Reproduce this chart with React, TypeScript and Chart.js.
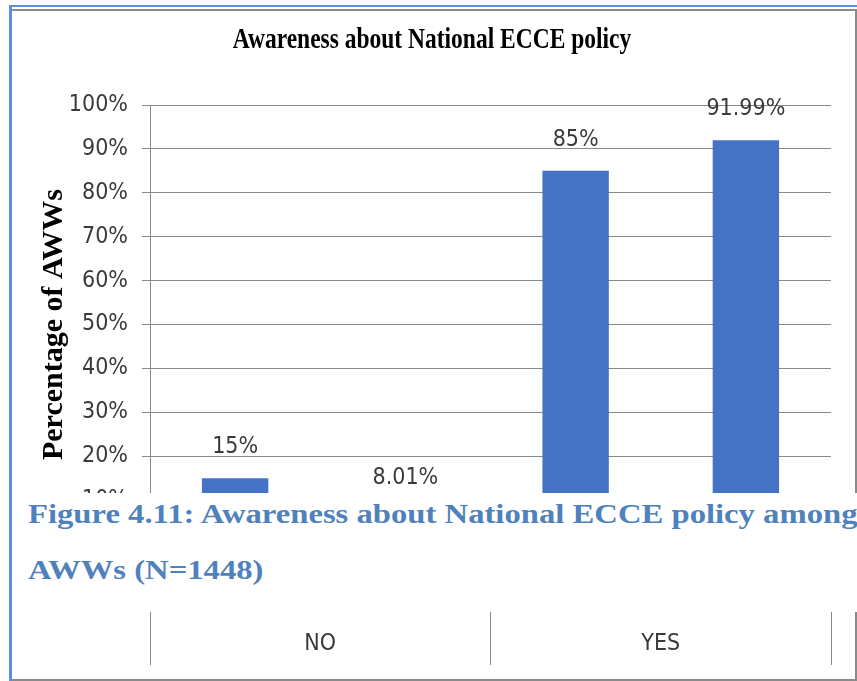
import React, { useEffect, useRef } from "react";
import { Chart, registerables } from "chart.js";

Chart.register(...registerables);

// ---- data ----
const categories = ["NO", "YES"];
const seriesA = [15, 85];
const seriesB = [8.01, 91.99];
const yTickValues = [0, 10, 20, 30, 40, 50, 60, 70, 80, 90, 100];
const chartTitle = "Awareness about National ECCE policy";
const yAxisTitle = "Percentage of AWWs";
const captionLine1 = "Figure 4.11: Awareness about National ECCE policy among";
const captionLine2 = "AWWs (N=1448)";

const SANS = '"DejaVu Sans Condensed", "Liberation Sans Narrow", sans-serif';
const SERIF = '"Liberation Serif", "Times New Roman", serif';
const BAR = "#4472C4";
const GRID = "#888888";
const TEXT = "#3a3a3a";

const valueLabels = {
  id: "valueLabels",
  afterDatasetsDraw(chart: any) {
    const ctx = chart.ctx;
    ctx.save();
    ctx.font = `23px ${SANS}`;
    ctx.fillStyle = TEXT;
    ctx.textAlign = "center";
    ctx.textBaseline = "middle";
    chart.data.datasets.forEach((ds: any, i: number) => {
      chart.getDatasetMeta(i).data.forEach((el: any, j: number) => {
        ctx.fillText(`${ds.data[j]}%`, el.x, el.y - 31);
      });
    });
    ctx.restore();
  },
};

export default function App() {
  const ref = useRef<HTMLCanvasElement>(null);

  useEffect(() => {
    if (!ref.current) return;
    const chart = new Chart(ref.current, {
      type: "bar",
      data: {
        labels: categories,
        datasets: [
          { label: "Series 1", data: seriesA, backgroundColor: BAR, categoryPercentage: 1, barPercentage: 0.39 },
          { label: "Series 2", data: seriesB, backgroundColor: BAR, categoryPercentage: 1, barPercentage: 0.39 },
        ],
      },
      options: {
        animation: false,
        responsive: false,
        layout: { padding: { left: 36, top: 105, right: 26, bottom: 0 } },
        plugins: { legend: { display: false }, tooltip: { enabled: false }, title: { display: false } },
        scales: {
          x: {
            grid: { display: true, drawOnChartArea: false, drawTicks: true, tickLength: 121, color: GRID, offset: true },
            border: { display: true, color: GRID },
            ticks: { padding: -35, font: { family: SANS, size: 23 }, color: TEXT },
            afterFit: (s: any) => { s.height = 137; },
          },
          y: {
            min: yTickValues[0],
            max: yTickValues[yTickValues.length - 1],
            afterBuildTicks: (s: any) => { s.ticks = yTickValues.map((v) => ({ value: v })); },
            ticks: { padding: 14, font: { family: SANS, size: 23 }, color: TEXT, callback: (v: any) => `${v}%` },
            grid: { color: GRID, lineWidth: 1, tickLength: 8 },
            border: { display: true, color: GRID },
            title: { display: true, text: yAxisTitle, color: "#000", padding: 0, font: { family: SERIF, size: 30, weight: "bold" } },
            afterFit: (s: any) => { s.width = 114; },
          },
        },
      },
      plugins: [valueLabels],
    });
    return () => chart.destroy();
  }, []);

  return (
    <div style={{ position: "absolute", left: 0, top: 0, width: 857, height: 681, overflow: "hidden", background: "#fff" }}>
      <div style={{ position: "absolute", left: 9, top: 5, width: 848, height: 676, boxSizing: "border-box", borderTop: "2px solid #5B8FDB", borderLeft: "3px solid #5B8FDB" }} />
      <div style={{ position: "absolute", left: 12, top: 9, width: 845, height: 672, boxSizing: "border-box", borderTop: "2px solid #8a8a8a", borderRight: "2px solid #8a8a8a", borderBottom: "2px solid #8a8a8a" }} />
      <canvas ref={ref} width={857} height={681} style={{ position: "absolute", left: 0, top: 0, width: 857, height: 681 }} />
      <div style={{ position: "absolute", left: 0, top: 24, width: 864, textAlign: "center", fontFamily: SERIF, fontWeight: "bold", fontSize: 29, lineHeight: "29px", color: "#000", transform: "scaleX(0.81)", transformOrigin: "center", whiteSpace: "nowrap" }}>
        {chartTitle}
      </div>
      <div style={{ position: "absolute", left: 12, top: 493, width: 845, height: 119, background: "#fff" }}>
        <div style={{ position: "absolute", left: 16, top: 8, fontFamily: SERIF, fontWeight: "bold", fontSize: 27, lineHeight: "27px", color: "rgb(79,129,189)", whiteSpace: "nowrap", transform: "scaleX(1.21)", transformOrigin: "left" }}>
          {captionLine1}
        </div>
        <div style={{ position: "absolute", left: 16, top: 64, fontFamily: SERIF, fontWeight: "bold", fontSize: 27, lineHeight: "27px", color: "rgb(79,129,189)", whiteSpace: "nowrap", transform: "scaleX(1.21)", transformOrigin: "left" }}>
          {captionLine2}
        </div>
      </div>
    </div>
  );
}
